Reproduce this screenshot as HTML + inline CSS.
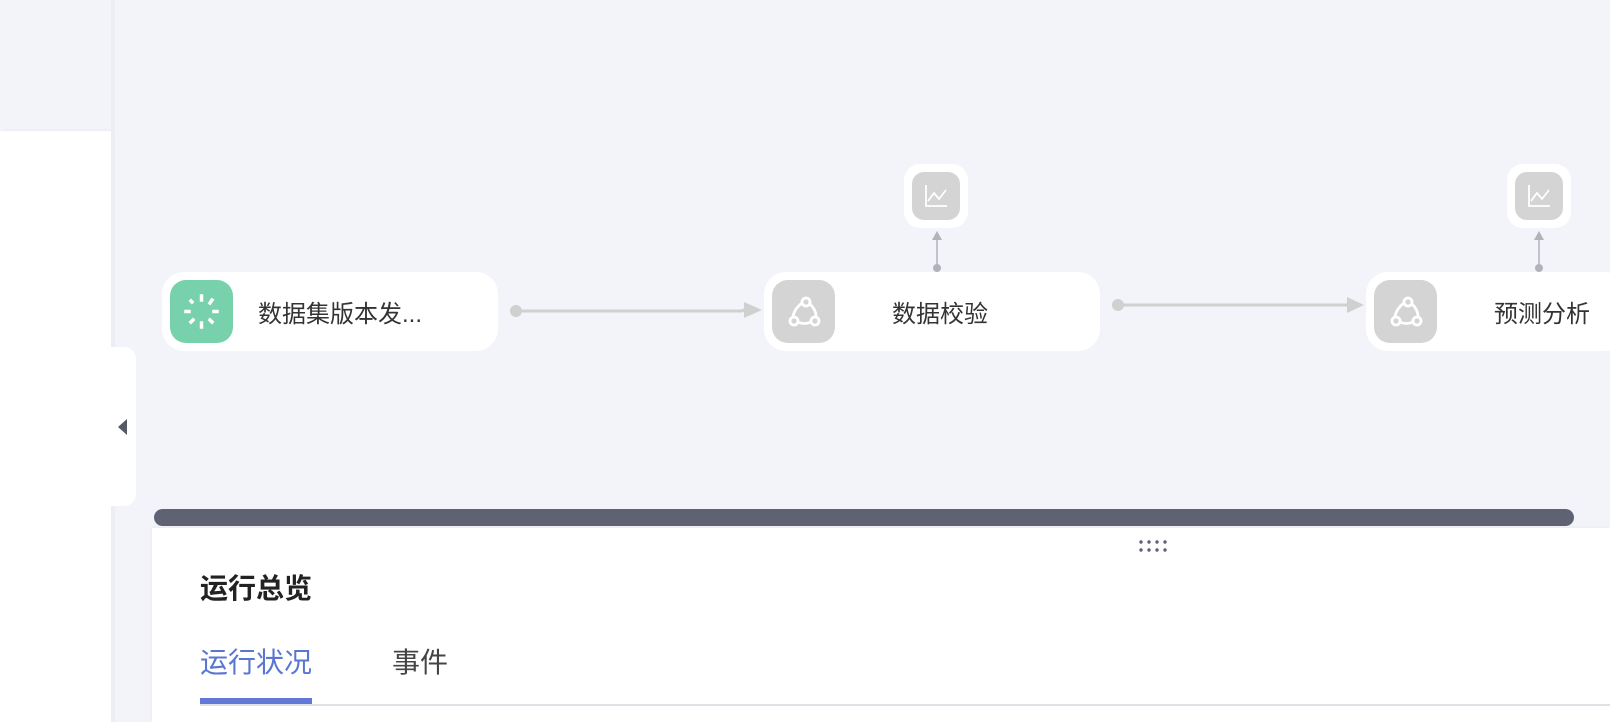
<!DOCTYPE html>
<html><head><meta charset="utf-8"><style>
*{margin:0;padding:0;box-sizing:border-box}
body{width:1610px;height:722px;background:#f3f4f9;position:relative;overflow:hidden;font-family:"Liberation Sans","Noto Sans CJK SC",sans-serif}
.a{position:absolute}
.node{position:absolute;background:#fff;border-radius:22px;height:79px;top:272px}
.ic{position:absolute;left:8px;top:8px;width:63px;height:63px;border-radius:16px;background:#d4d4d4}
.lbl{position:absolute;top:3px;line-height:79px;font-size:24px;color:#333;white-space:nowrap}
.cn{position:absolute;background:#fff;border-radius:16px;width:64px;height:64px;top:164px}
.cn .in{position:absolute;left:8px;top:8px;width:48px;height:48px;border-radius:12px;background:#d4d4d4}
</style></head><body>
<div class="a" style="left:0;top:131px;width:111px;height:591px;background:#fff;box-shadow:2px 0 4px rgba(0,0,0,0.06)"></div>
<div class="a" style="left:111px;top:0;width:4px;height:722px;background:#eceef4"></div>
<div class="a" style="left:111px;top:347px;width:25px;height:159px;background:#fff;border-radius:0 12px 12px 0"></div>
<div class="a" style="left:118px;top:419px;width:0;height:0;border-top:8px solid transparent;border-bottom:8px solid transparent;border-right:9px solid #555a66"></div>

<svg class="a" style="left:0;top:0" width="1610" height="722">
<g fill="#d0d0d0" stroke="#d0d0d0">
<circle cx="516" cy="311" r="6" stroke="none"/>
<path d="M516 311 H742 L748 308" stroke-width="3" fill="none"/>
<polygon points="744,302 762,310 744,318" stroke="none"/>
<circle cx="1118" cy="305" r="6" stroke="none"/>
<line x1="1118" y1="305" x2="1348" y2="305" stroke-width="3"/>
<polygon points="1347,297 1364,305 1347,313" stroke="none"/>
</g>
<g fill="#b0b3ba" stroke="#b0b3ba">
<circle cx="937" cy="268" r="4" stroke="none"/><line x1="937" y1="268" x2="937" y2="238" stroke-width="1.5"/><polygon points="932,240 937,231 942,240" stroke="none"/>
<circle cx="1539" cy="268" r="4" stroke="none"/><line x1="1539" y1="268" x2="1539" y2="238" stroke-width="1.5"/><polygon points="1534,240 1539,231 1544,240" stroke="none"/>
</g>
</svg>

<div class="node" style="left:162px;width:336px">
 <div class="ic" style="background:#77d1ab">
  <svg width="63" height="63" viewBox="0 0 63 63" stroke="#fff" stroke-width="3.5" stroke-linecap="square" fill="none">
   <line x1="31.5" y1="16" x2="31.5" y2="20"/><line x1="31.5" y1="43" x2="31.5" y2="47"/>
   <line x1="16" y1="31.5" x2="19" y2="31.5"/><line x1="44" y1="31.5" x2="47" y2="31.5"/>
   <line x1="42" y1="20" x2="40" y2="23"/><line x1="21" y1="21" x2="22" y2="22"/>
   <line x1="21" y1="42" x2="23" y2="40"/><line x1="40" y1="40" x2="42" y2="42"/>
  </svg>
 </div>
 <div class="lbl" style="left:96px">数据集版本发...</div>
</div>

<div class="node" style="left:764px;width:336px">
 <div class="ic"><svg width="63" height="63" viewBox="0 0 63 63" fill="none" stroke="#fff" stroke-width="2.8"><circle cx="34" cy="22" r="4"/><circle cx="22" cy="41" r="4"/><circle cx="43" cy="41" r="4"/><path d="M30 23 Q23 28 21 36"/><path d="M38 24 Q44 30 44 36"/><path d="M26 42 Q32 45 39 42"/></svg></div>
 <div class="lbl" style="left:128px">数据校验</div>
</div>

<div class="node" style="left:1366px;width:260px">
 <div class="ic"><svg width="63" height="63" viewBox="0 0 63 63" fill="none" stroke="#fff" stroke-width="2.8"><circle cx="34" cy="22" r="4"/><circle cx="22" cy="41" r="4"/><circle cx="43" cy="41" r="4"/><path d="M30 23 Q23 28 21 36"/><path d="M38 24 Q44 30 44 36"/><path d="M26 42 Q32 45 39 42"/></svg></div>
 <div class="lbl" style="left:128px">预测分析</div>
</div>

<div class="cn" style="left:904px"><div class="in"><svg width="48" height="48" fill="none" stroke="#fff" stroke-width="1.8"><path d="M14 13 V34 H35"/><path d="M16 29 L22 21 L27 27 L34 18"/></svg></div></div>
<div class="cn" style="left:1507px"><div class="in"><svg width="48" height="48" fill="none" stroke="#fff" stroke-width="1.8"><path d="M14 13 V34 H35"/><path d="M16 29 L22 21 L27 27 L34 18"/></svg></div></div>

<div class="a" style="left:152px;top:528px;width:1458px;height:194px;background:#fff;box-shadow:0 0 4px rgba(0,0,0,0.06)"></div>
<div class="a" style="left:154px;top:509px;width:1420px;height:17px;background:#5f6272;border-radius:9px"></div>
<svg class="a" style="left:1138px;top:539px" width="32" height="14" fill="#5f6272"><circle cx="3" cy="3" r="1.7"/><circle cx="11" cy="3" r="1.7"/><circle cx="19" cy="3" r="1.7"/><circle cx="27" cy="3" r="1.7"/><circle cx="3" cy="11" r="1.7"/><circle cx="11" cy="11" r="1.7"/><circle cx="19" cy="11" r="1.7"/><circle cx="27" cy="11" r="1.7"/></svg>
<div class="a" style="left:200px;top:571px;font-size:28px;font-weight:bold;color:#222;line-height:36px">运行总览</div>
<div class="a" style="left:200px;top:645px;font-size:28px;color:#5b76d2;line-height:36px">运行状况</div>
<div class="a" style="left:392px;top:645px;font-size:28px;color:#444;line-height:36px">事件</div>
<div class="a" style="left:200px;top:704px;width:1410px;height:2px;background:#e0e0e6"></div>
<div class="a" style="left:200px;top:698px;width:112px;height:6px;background:#6278d6"></div>
</body></html>
